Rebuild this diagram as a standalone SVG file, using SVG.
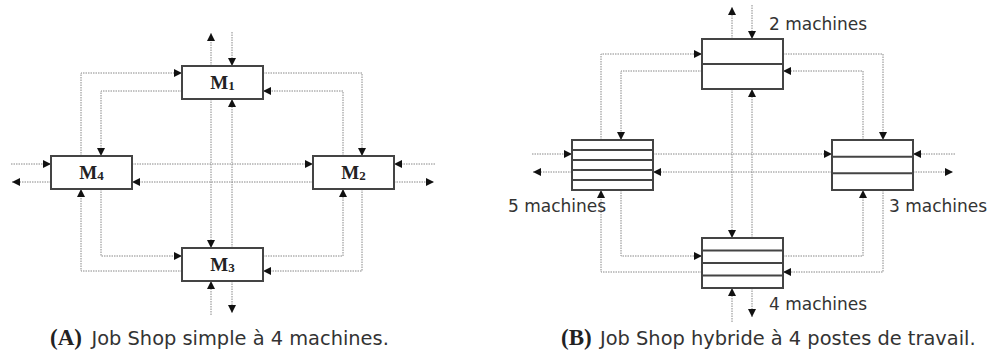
<svg xmlns="http://www.w3.org/2000/svg" width="991" height="353" viewBox="0 0 991 353">
  <defs>
    <marker id="arrow" markerUnits="userSpaceOnUse" markerWidth="9" markerHeight="9" refX="8" refY="4" orient="auto">
      <path d="M0,0 L8,4 L0,8 z" fill="#111"/>
    </marker>
    <style>
      .box { fill: #fff; stroke: #444; stroke-width: 2; }
      .div { stroke: #444; stroke-width: 2; }
      .flow { fill: none; stroke: #888; stroke-width: 1; stroke-dasharray: 1.5 1; marker-end: url(#arrow); }
      .mlabel { font-family: "Liberation Serif", "Times New Roman", serif; font-weight: bold; font-size: 19px; fill: #222; }
      .sub { font-size: 13px; }
      .txt { font-family: "DejaVu Sans", Verdana, sans-serif; font-size: 17px; fill: #333; }
      .cap { font-family: "DejaVu Sans", Verdana, sans-serif; font-size: 19.4px; fill: #333; }
      .tag { font-family: "Liberation Serif", "Times New Roman", serif; font-weight: bold; font-size: 23px; fill: #222; }
    </style>
  </defs>
  <rect width="991" height="353" fill="#fff"/>

  <!-- (A) simple job shop: flows -->
  <g id="connectors-a">
    <path class="flow" d="M211,66 V33"/>
    <path class="flow" d="M232,32 V66"/>
    <path class="flow" d="M211,99 V248"/>
    <path class="flow" d="M232,248 V99"/>
    <path class="flow" d="M211,315 V281"/>
    <path class="flow" d="M232,281 V313"/>
    <path class="flow" d="M11,164 H51"/>
    <path class="flow" d="M132,164 H313"/>
    <path class="flow" d="M435,164 H394"/>
    <path class="flow" d="M51,182 H12"/>
    <path class="flow" d="M313,182 H132"/>
    <path class="flow" d="M394,182 H434"/>
    <path class="flow" d="M81,156 V73 H182"/>
    <path class="flow" d="M182,91 H101 V156"/>
    <path class="flow" d="M263,73 H362 V156"/>
    <path class="flow" d="M343,156 V91 H263"/>
    <path class="flow" d="M101,189 V256 H182"/>
    <path class="flow" d="M182,271 H81 V189"/>
    <path class="flow" d="M263,256 H343 V189"/>
    <path class="flow" d="M362,189 V271 H263"/>
  </g>

  <!-- (A) machines -->
  <g id="m1">
    <rect class="box" x="182" y="66" width="81" height="33"/>
    <text class="mlabel" x="222.5" y="89" text-anchor="middle">M<tspan class="sub" dy="1">1</tspan></text>
  </g>
  <g id="m2">
    <rect class="box" x="313" y="156" width="81" height="33"/>
    <text class="mlabel" x="353.5" y="179" text-anchor="middle">M<tspan class="sub" dy="1">2</tspan></text>
  </g>
  <g id="m3">
    <rect class="box" x="182" y="248" width="81" height="33"/>
    <text class="mlabel" x="222.5" y="271" text-anchor="middle">M<tspan class="sub" dy="1">3</tspan></text>
  </g>
  <g id="m4">
    <rect class="box" x="51" y="156" width="81" height="33"/>
    <text class="mlabel" x="91.5" y="179" text-anchor="middle">M<tspan class="sub" dy="1">4</tspan></text>
  </g>

  <!-- (B) hybrid job shop: flows -->
  <g id="connectors-b">
    <path class="flow" d="M732,39 V7"/>
    <path class="flow" d="M752,5 V39"/>
    <path class="flow" d="M732,89 V238"/>
    <path class="flow" d="M752,238 V89"/>
    <path class="flow" d="M732,322 V288"/>
    <path class="flow" d="M752,288 V317"/>
    <path class="flow" d="M532,154 H572"/>
    <path class="flow" d="M653,154 H832"/>
    <path class="flow" d="M955,154 H913"/>
    <path class="flow" d="M572,172 H533"/>
    <path class="flow" d="M832,172 H653"/>
    <path class="flow" d="M913,172 H953"/>
    <path class="flow" d="M601,140 V54 H702"/>
    <path class="flow" d="M702,71 H621 V140"/>
    <path class="flow" d="M783,54 H883 V140"/>
    <path class="flow" d="M863,140 V71 H783"/>
    <path class="flow" d="M621,190 V256 H702"/>
    <path class="flow" d="M702,272 H601 V190"/>
    <path class="flow" d="M783,256 H863 V190"/>
    <path class="flow" d="M883,190 V272 H783"/>
  </g>

  <!-- (B) work stations -->
  <g id="station-top">
    <rect class="box" x="702" y="39" width="81" height="50"/>
    <line class="div" x1="702" y1="64" x2="783" y2="64"/>
    <text class="txt" x="769" y="29.5">2 machines</text>
  </g>
  <g id="station-left">
    <rect class="box" x="572" y="140" width="81" height="50"/>
    <line class="div" x1="572" y1="150" x2="653" y2="150"/>
    <line class="div" x1="572" y1="160" x2="653" y2="160"/>
    <line class="div" x1="572" y1="170" x2="653" y2="170"/>
    <line class="div" x1="572" y1="180" x2="653" y2="180"/>
    <text class="txt" x="508" y="211.5">5 machines</text>
  </g>
  <g id="station-right">
    <rect class="box" x="832" y="140" width="81" height="50"/>
    <line class="div" x1="832" y1="156.7" x2="913" y2="156.7"/>
    <line class="div" x1="832" y1="173.3" x2="913" y2="173.3"/>
    <text class="txt" x="889" y="211.5">3 machines</text>
  </g>
  <g id="station-bottom">
    <rect class="box" x="702" y="238" width="81" height="50"/>
    <line class="div" x1="702" y1="250.5" x2="783" y2="250.5"/>
    <line class="div" x1="702" y1="263" x2="783" y2="263"/>
    <line class="div" x1="702" y1="275.5" x2="783" y2="275.5"/>
    <text class="txt" x="769" y="310">4 machines</text>
  </g>

  <!-- captions -->
  <g id="captions">
    <text x="50" y="345"><tspan class="tag">(A)</tspan><tspan class="cap" x="91.5">Job Shop simple à 4 machines.</tspan></text>
    <text x="561" y="345"><tspan class="tag">(B)</tspan><tspan class="cap" x="600">Job Shop hybride à 4 postes de travail.</tspan></text>
  </g>
</svg>
